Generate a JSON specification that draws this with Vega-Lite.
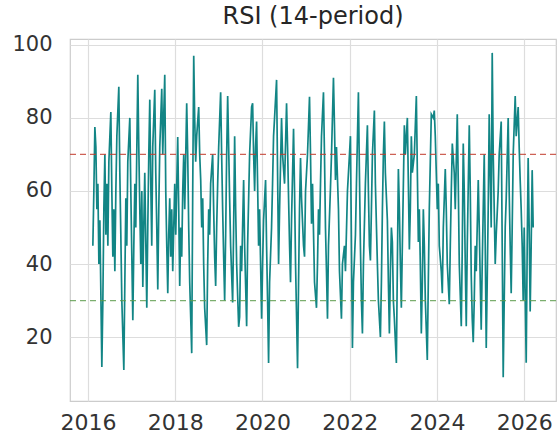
{
  "$schema": "https://vega.github.io/schema/vega-lite/v6.json",
  "width": 486,
  "height": 362,
  "autosize": "none",
  "padding": {"left": 70, "top": 39, "right": 1, "bottom": 34},
  "background": "white",
  "title": {"text": "RSI (14-period)", "fontSize": 24, "font": "DejaVu Sans", "fontWeight": "normal", "color": "#262626", "offset": 5, "anchor": "middle"},
  "config": {
    "view": {"stroke": "#cccccc", "strokeWidth": 1.2},
    "axis": {"labelFont": "DejaVu Sans", "labelFontSize": 21, "labelColor": "#333333", "gridColor": "#dddddd", "gridWidth": 1.2, "domain": false, "ticks": false, "title": null}
  },
  "layer": [
    {
      "data": {"values": [
        {"t":2016.114,"rsi":45},{"t":2016.137,"rsi":60},{"t":2016.160,"rsi":77.5},{"t":2016.183,"rsi":72},{"t":2016.206,"rsi":55},{"t":2016.229,"rsi":62},{"t":2016.252,"rsi":40},{"t":2016.275,"rsi":52},{"t":2016.320,"rsi":11.8},{"t":2016.343,"rsi":30},{"t":2016.366,"rsi":55},{"t":2016.389,"rsi":70},{"t":2016.412,"rsi":48},{"t":2016.435,"rsi":62},{"t":2016.458,"rsi":45},{"t":2016.481,"rsi":68},{"t":2016.526,"rsi":81.6},{"t":2016.549,"rsi":60},{"t":2016.572,"rsi":42},{"t":2016.595,"rsi":55},{"t":2016.618,"rsi":38},{"t":2016.641,"rsi":60},{"t":2016.664,"rsi":75},{"t":2016.709,"rsi":88.5},{"t":2016.732,"rsi":65},{"t":2016.755,"rsi":48},{"t":2016.778,"rsi":30},{"t":2016.824,"rsi":11},{"t":2016.847,"rsi":35},{"t":2016.870,"rsi":58},{"t":2016.892,"rsi":45},{"t":2016.915,"rsi":68},{"t":2016.961,"rsi":80},{"t":2016.984,"rsi":60},
        {"t":2017.030,"rsi":24.6},{"t":2017.053,"rsi":45},{"t":2017.076,"rsi":62},{"t":2017.098,"rsi":50},{"t":2017.144,"rsi":91.8},{"t":2017.167,"rsi":72},{"t":2017.190,"rsi":55},{"t":2017.213,"rsi":40},{"t":2017.236,"rsi":60},{"t":2017.259,"rsi":33.7},{"t":2017.281,"rsi":50},{"t":2017.304,"rsi":65},{"t":2017.350,"rsi":28},{"t":2017.373,"rsi":50},{"t":2017.396,"rsi":70},{"t":2017.419,"rsi":85},{"t":2017.442,"rsi":62},{"t":2017.464,"rsi":45},{"t":2017.487,"rsi":72},{"t":2017.533,"rsi":87.7},{"t":2017.556,"rsi":65},{"t":2017.579,"rsi":50},{"t":2017.602,"rsi":33},{"t":2017.625,"rsi":55},{"t":2017.648,"rsi":72},{"t":2017.693,"rsi":88},{"t":2017.716,"rsi":70},{"t":2017.762,"rsi":91.8},{"t":2017.785,"rsi":60},{"t":2017.808,"rsi":45},{"t":2017.831,"rsi":32},{"t":2017.853,"rsi":48},{"t":2017.876,"rsi":58},{"t":2017.899,"rsi":42},{"t":2017.922,"rsi":55},{"t":2017.945,"rsi":38},{"t":2017.991,"rsi":62},
        {"t":2018.014,"rsi":48},{"t":2018.059,"rsi":74.8},{"t":2018.082,"rsi":55},{"t":2018.105,"rsi":34},{"t":2018.128,"rsi":50},{"t":2018.151,"rsi":42},{"t":2018.174,"rsi":60},{"t":2018.197,"rsi":70},{"t":2018.220,"rsi":55},{"t":2018.265,"rsi":84},{"t":2018.288,"rsi":70},{"t":2018.311,"rsi":50},{"t":2018.334,"rsi":35},{"t":2018.380,"rsi":15.6},{"t":2018.403,"rsi":60},{"t":2018.426,"rsi":97},{"t":2018.448,"rsi":80},{"t":2018.471,"rsi":68},{"t":2018.494,"rsi":75},{"t":2018.540,"rsi":83},{"t":2018.563,"rsi":70},{"t":2018.586,"rsi":63},{"t":2018.609,"rsi":50},{"t":2018.632,"rsi":58},{"t":2018.654,"rsi":40},{"t":2018.677,"rsi":28},{"t":2018.723,"rsi":17.8},{"t":2018.746,"rsi":40},{"t":2018.769,"rsi":55},{"t":2018.791,"rsi":48},{"t":2018.814,"rsi":62},{"t":2018.860,"rsi":70},{"t":2018.883,"rsi":55},{"t":2018.906,"rsi":42},{"t":2018.929,"rsi":34},{"t":2018.952,"rsi":50},{"t":2018.975,"rsi":62},{"t":2018.998,"rsi":72},
        {"t":2019.043,"rsi":87},{"t":2019.066,"rsi":70},{"t":2019.089,"rsi":55},{"t":2019.112,"rsi":42},{"t":2019.135,"rsi":30},{"t":2019.158,"rsi":48},{"t":2019.181,"rsi":70},{"t":2019.204,"rsi":86},{"t":2019.227,"rsi":72},{"t":2019.249,"rsi":58},{"t":2019.272,"rsi":45},{"t":2019.318,"rsi":29.5},{"t":2019.341,"rsi":50},{"t":2019.364,"rsi":75},{"t":2019.387,"rsi":55},{"t":2019.410,"rsi":40},{"t":2019.456,"rsi":22.8},{"t":2019.478,"rsi":25.5},{"t":2019.501,"rsi":45},{"t":2019.524,"rsi":38},{"t":2019.570,"rsi":63},{"t":2019.593,"rsi":45},{"t":2019.639,"rsi":23},{"t":2019.661,"rsi":45},{"t":2019.707,"rsi":70},{"t":2019.753,"rsi":83},{"t":2019.776,"rsi":84},{"t":2019.799,"rsi":70},{"t":2019.822,"rsi":60},{"t":2019.844,"rsi":72},{"t":2019.867,"rsi":79},{"t":2019.890,"rsi":62},{"t":2019.913,"rsi":45},{"t":2019.936,"rsi":55},{"t":2019.982,"rsi":25},
        {"t":2020.005,"rsi":40},{"t":2020.027,"rsi":52},{"t":2020.073,"rsi":63},{"t":2020.096,"rsi":45},{"t":2020.119,"rsi":30},{"t":2020.142,"rsi":12.9},{"t":2020.165,"rsi":35},{"t":2020.210,"rsi":50},{"t":2020.233,"rsi":62},{"t":2020.256,"rsi":75},{"t":2020.279,"rsi":80},{"t":2020.325,"rsi":90.4},{"t":2020.348,"rsi":65},{"t":2020.371,"rsi":40},{"t":2020.394,"rsi":55},{"t":2020.439,"rsi":80},{"t":2020.462,"rsi":70},{"t":2020.508,"rsi":62},{"t":2020.554,"rsi":84},{"t":2020.577,"rsi":72},{"t":2020.600,"rsi":58},{"t":2020.623,"rsi":45},{"t":2020.645,"rsi":35},{"t":2020.668,"rsi":52},{"t":2020.714,"rsi":77},{"t":2020.737,"rsi":60},{"t":2020.760,"rsi":40},{"t":2020.806,"rsi":11.5},{"t":2020.829,"rsi":35},{"t":2020.851,"rsi":55},{"t":2020.874,"rsi":69},{"t":2020.897,"rsi":58},{"t":2020.943,"rsi":45},{"t":2020.966,"rsi":42},{"t":2020.989,"rsi":60},
        {"t":2021.034,"rsi":70},{"t":2021.080,"rsi":85.8},{"t":2021.103,"rsi":70},{"t":2021.126,"rsi":51},{"t":2021.149,"rsi":62},{"t":2021.195,"rsi":35},{"t":2021.240,"rsi":28},{"t":2021.263,"rsi":40},{"t":2021.286,"rsi":55},{"t":2021.309,"rsi":48},{"t":2021.332,"rsi":62},{"t":2021.355,"rsi":75},{"t":2021.400,"rsi":87},{"t":2021.423,"rsi":70},{"t":2021.446,"rsi":50},{"t":2021.469,"rsi":38},{"t":2021.492,"rsi":25},{"t":2021.515,"rsi":45},{"t":2021.561,"rsi":61},{"t":2021.584,"rsi":70},{"t":2021.629,"rsi":91},{"t":2021.652,"rsi":78},{"t":2021.675,"rsi":63},{"t":2021.698,"rsi":72},{"t":2021.744,"rsi":55},{"t":2021.767,"rsi":38},{"t":2021.812,"rsi":25},{"t":2021.835,"rsi":40},{"t":2021.881,"rsi":45},{"t":2021.904,"rsi":38},{"t":2021.950,"rsi":60},{"t":2021.996,"rsi":70},
        {"t":2022.018,"rsi":75},{"t":2022.064,"rsi":17},{"t":2022.087,"rsi":35},{"t":2022.133,"rsi":48},{"t":2022.156,"rsi":62},{"t":2022.201,"rsi":87},{"t":2022.224,"rsi":65},{"t":2022.247,"rsi":45},{"t":2022.270,"rsi":30},{"t":2022.293,"rsi":21},{"t":2022.316,"rsi":40},{"t":2022.361,"rsi":62},{"t":2022.407,"rsi":78},{"t":2022.430,"rsi":60},{"t":2022.453,"rsi":45},{"t":2022.476,"rsi":41},{"t":2022.499,"rsi":55},{"t":2022.522,"rsi":70},{"t":2022.567,"rsi":82},{"t":2022.590,"rsi":62},{"t":2022.636,"rsi":40},{"t":2022.659,"rsi":30},{"t":2022.705,"rsi":20},{"t":2022.728,"rsi":35},{"t":2022.751,"rsi":55},{"t":2022.773,"rsi":70},{"t":2022.796,"rsi":79},{"t":2022.819,"rsi":65},{"t":2022.865,"rsi":52},{"t":2022.888,"rsi":35},{"t":2022.911,"rsi":21},{"t":2022.934,"rsi":38},{"t":2022.957,"rsi":50},{"t":2022.979,"rsi":46},
        {"t":2023.002,"rsi":30},{"t":2023.025,"rsi":25},{"t":2023.071,"rsi":12.9},{"t":2023.094,"rsi":40},{"t":2023.117,"rsi":66},{"t":2023.140,"rsi":55},{"t":2023.163,"rsi":40},{"t":2023.185,"rsi":28},{"t":2023.208,"rsi":45},{"t":2023.254,"rsi":78},{"t":2023.277,"rsi":70},{"t":2023.323,"rsi":80},{"t":2023.346,"rsi":62},{"t":2023.369,"rsi":44},{"t":2023.391,"rsi":55},{"t":2023.414,"rsi":75},{"t":2023.437,"rsi":65},{"t":2023.483,"rsi":70},{"t":2023.529,"rsi":86},{"t":2023.552,"rsi":65},{"t":2023.575,"rsi":46},{"t":2023.597,"rsi":55},{"t":2023.620,"rsi":40},{"t":2023.643,"rsi":21},{"t":2023.666,"rsi":35},{"t":2023.689,"rsi":55},{"t":2023.712,"rsi":45},{"t":2023.735,"rsi":30},{"t":2023.780,"rsi":13.7},{"t":2023.803,"rsi":35},{"t":2023.826,"rsi":55},{"t":2023.849,"rsi":68},{"t":2023.872,"rsi":81},{"t":2023.918,"rsi":80},{"t":2023.940,"rsi":82},{"t":2023.963,"rsi":75},{"t":2023.986,"rsi":65},
        {"t":2024.009,"rsi":55},{"t":2024.032,"rsi":62},{"t":2024.055,"rsi":45},{"t":2024.101,"rsi":38},{"t":2024.124,"rsi":32},{"t":2024.147,"rsi":50},{"t":2024.192,"rsi":66},{"t":2024.215,"rsi":55},{"t":2024.238,"rsi":40},{"t":2024.284,"rsi":29},{"t":2024.307,"rsi":45},{"t":2024.330,"rsi":60},{"t":2024.353,"rsi":73},{"t":2024.398,"rsi":65},{"t":2024.421,"rsi":55},{"t":2024.467,"rsi":81},{"t":2024.490,"rsi":62},{"t":2024.513,"rsi":40},{"t":2024.559,"rsi":23},{"t":2024.581,"rsi":44},{"t":2024.604,"rsi":73},{"t":2024.627,"rsi":60},{"t":2024.650,"rsi":40},{"t":2024.673,"rsi":23},{"t":2024.696,"rsi":45},{"t":2024.742,"rsi":78},{"t":2024.765,"rsi":60},{"t":2024.787,"rsi":37},{"t":2024.810,"rsi":25},{"t":2024.833,"rsi":18.6},{"t":2024.856,"rsi":30},{"t":2024.879,"rsi":45},{"t":2024.902,"rsi":38},{"t":2024.948,"rsi":63},{"t":2024.971,"rsi":50},{"t":2024.994,"rsi":35},
        {"t":2025.016,"rsi":22},{"t":2025.039,"rsi":40},{"t":2025.085,"rsi":70},{"t":2025.108,"rsi":45},{"t":2025.131,"rsi":17},{"t":2025.153,"rsi":35},{"t":2025.176,"rsi":55},{"t":2025.199,"rsi":81},{"t":2025.222,"rsi":65},{"t":2025.245,"rsi":50},{"t":2025.268,"rsi":97.8},{"t":2025.291,"rsi":70},{"t":2025.314,"rsi":55},{"t":2025.337,"rsi":40},{"t":2025.360,"rsi":48},{"t":2025.405,"rsi":60},{"t":2025.428,"rsi":70},{"t":2025.474,"rsi":79},{"t":2025.497,"rsi":45},{"t":2025.520,"rsi":9},{"t":2025.543,"rsi":30},{"t":2025.566,"rsi":50},{"t":2025.589,"rsi":58},{"t":2025.634,"rsi":80},{"t":2025.657,"rsi":60},{"t":2025.680,"rsi":45},{"t":2025.703,"rsi":32},{"t":2025.726,"rsi":50},{"t":2025.749,"rsi":70},{"t":2025.795,"rsi":86},{"t":2025.818,"rsi":75},{"t":2025.863,"rsi":83},{"t":2025.886,"rsi":72},{"t":2025.909,"rsi":63},{"t":2025.932,"rsi":55},{"t":2025.955,"rsi":45},{"t":2025.978,"rsi":30},
        {"t":2026.001,"rsi":50},{"t":2026.047,"rsi":13},{"t":2026.070,"rsi":45},{"t":2026.092,"rsi":69},{"t":2026.115,"rsi":50},{"t":2026.138,"rsi":27},{"t":2026.161,"rsi":45},{"t":2026.184,"rsi":65.7},{"t":2026.207,"rsi":50}
      ]},
      "mark": {"type": "line", "color": "#128585", "strokeWidth": 1.7, "clip": true},
      "encoding": {
        "x": {"field": "t", "type": "quantitative", "scale": {"domain": [2015.59, 2026.73], "nice": false, "zero": false},
              "axis": {"values": [2016, 2018, 2020, 2022, 2024, 2026], "format": "d", "labelPadding": 11, "labelFontSize": 22}},
        "y": {"field": "rsi", "type": "quantitative", "scale": {"domain": [2.5, 101.6], "nice": false, "zero": false},
              "axis": {"values": [20, 40, 60, 80, 100], "labelPadding": 18, "labelFontSize": 21}}
      }
    },
    {
      "data": {"values": [{"level": 70, "zone": "overbought"}, {"level": 30, "zone": "oversold"}]},
      "mark": {"type": "rule", "strokeDash": [6, 4], "strokeWidth": 1.3, "opacity": 0.8},
      "encoding": {
        "y": {"field": "level", "type": "quantitative"},
        "color": {"field": "zone", "type": "nominal", "scale": {"domain": ["overbought", "oversold"], "range": ["#c0392b", "#5a9a4a"]}, "legend": null}
      }
    }
  ]
}
